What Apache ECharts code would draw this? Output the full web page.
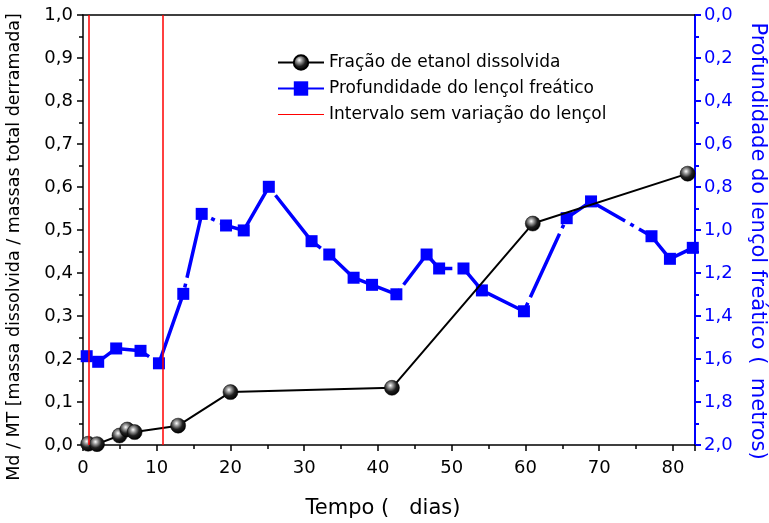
<!DOCTYPE html>
<html>
<head>
<meta charset="utf-8">
<script src="https://cdn.jsdelivr.net/npm/echarts@6/dist/echarts.min.js"></script>
<style>
  html, body { margin: 0; padding: 0; background: #fff; }
  #main { width: 769px; height: 523px; }
</style>
</head>
<body>
<div id="main"></div>
<script>
// fração de etanol dissolvida (dias, Md/MT)
var etanolDias = [0.7, 1.9, 4.95, 6.0, 7.0, 12.9, 20.0, 41.9, 61.0, 82.0];
var etanolFracao = [0.003, 0.002, 0.022, 0.036, 0.030, 0.045, 0.123, 0.133, 0.515, 0.631];

// profundidade do lençol freático (dias, metros)
var lencolDias = [0.5, 2.06, 4.5, 7.8, 10.3, 13.6, 16.1, 19.4, 21.8, 25.2, 31.0, 33.4, 36.7, 39.2, 42.5,
  46.6, 48.3, 51.6, 54.1, 59.8, 65.6, 68.9, 77.1, 79.6, 82.7];
var lencolProf = [1.587, 1.613, 1.551, 1.562, 1.62, 1.297, 0.925, 0.979, 1.002, 0.799, 1.052, 1.114, 1.222, 1.255, 1.299,
  1.114, 1.179, 1.179, 1.281, 1.378, 0.945, 0.867, 1.029, 1.134, 1.083];

// intervalo sem variação do lençol
var intervaloDias = [0.84, 10.8];

var xTicks = [0, 10, 20, 30, 40, 50, 60, 70, 80];

var chart = echarts.init(document.getElementById('main'), null, { renderer: 'canvas' });

var fonte = 'DejaVu Sans, Arial, sans-serif';
var virgula = function (v) { return v.toFixed(1).replace('.', ','); };

var etanolData = etanolDias.map(function (d, i) { return [d, etanolFracao[i]]; });
var lencolData = lencolDias.map(function (d, i) { return [d, lencolProf[i]]; });

var esfera = {
  type: 'radial', x: 0.4, y: 0.35, r: 0.65,
  colorStops: [
    { offset: 0, color: '#ffffff' },
    { offset: 0.25, color: '#9a9a9a' },
    { offset: 0.6, color: '#202020' },
    { offset: 1, color: '#000000' }
  ]
};

var option = {
  backgroundColor: '#fff',
  animation: false,
  textStyle: { fontFamily: fonte },
  grid: { left: 83, right: 74, top: 15, bottom: 78, containLabel: false, outerBoundsMode: 'none' },
  legend: {
    left: 272,
    top: 49,
    orient: 'vertical',
    itemGap: 9,
    itemWidth: 46,
    itemHeight: 18,
    textStyle: { fontFamily: fonte, fontSize: 17, color: '#000' },
    data: [
      { name: 'Fração de etanol dissolvida' },
      { name: 'Profundidade do lençol freático' },
      { name: 'Intervalo sem variação do lençol', icon: 'path://M0,8 L46,8 L46,9 L0,9 Z', itemStyle: { color: '#ff0000' } }
    ]
  },
  xAxis: [{
    type: 'value',
    min: 0,
    max: 83,
    interval: 10,
    name: 'Tempo (   dias)',
    nameLocation: 'middle',
    nameGap: 53,
    nameTextStyle: { fontFamily: fonte, fontSize: 21, color: '#000', padding: [0, 12, 0, 0] },
    axisLine: { show: true, onZero: false, lineStyle: { color: '#000', width: 1.5 } },
    axisTick: { show: true, inside: false, length: 6, lineStyle: { color: '#000', width: 1.5 } },
    minorTick: { show: true, splitNumber: 2, length: 4, lineStyle: { color: '#000', width: 1.5 } },
    axisLabel: {
      fontFamily: fonte, fontSize: 18, color: '#000', margin: 14,
      formatter: function (v) { return xTicks.indexOf(v) >= 0 ? String(v) : ''; }
    },
    splitLine: { show: false }
  }, {
    type: 'value',
    position: 'top',
    min: 0,
    max: 83,
    interval: 10,
    axisLine: { show: true, onZero: false, lineStyle: { color: '#000', width: 1.5 } },
    axisTick: { show: false },
    axisLabel: { show: false },
    splitLine: { show: false }
  }],
  yAxis: [{
    type: 'value',
    min: 0,
    max: 1,
    interval: 0.1,
    name: 'Md / MT [massa dissolvida / massas total derramada]',
    nameLocation: 'middle',
    nameGap: 60,
    nameTextStyle: { fontFamily: fonte, fontSize: 17.5, color: '#000', padding: [0, 34, 0, 0] },
    axisLine: { show: true, onZero: false, lineStyle: { color: '#000', width: 1.5 } },
    axisTick: { show: true, inside: false, length: 6, lineStyle: { color: '#000', width: 1.5 } },
    minorTick: { show: true, splitNumber: 2, length: 4, lineStyle: { color: '#000', width: 1.5 } },
    axisLabel: { fontFamily: fonte, fontSize: 18, color: '#000', margin: 10, formatter: virgula },
    splitLine: { show: false }
  }, {
    type: 'value',
    position: 'right',
    inverse: true,
    min: 0,
    max: 2,
    interval: 0.2,
    name: 'Profundidade do lençol freático (  metros)',
    nameLocation: 'middle',
    nameRotate: -90,
    nameGap: 52,
    nameTextStyle: { fontFamily: fonte, fontSize: 21, color: '#0000ff', padding: [0, 0, 0, 22] },
    axisLine: { show: true, onZero: false, lineStyle: { color: '#0000ff', width: 2 } },
    axisTick: { show: true, inside: false, length: 6, lineStyle: { color: '#0000ff', width: 2 } },
    minorTick: { show: true, splitNumber: 2, length: 4, lineStyle: { color: '#0000ff', width: 2 } },
    axisLabel: { fontFamily: fonte, fontSize: 18, color: '#0000ff', margin: 9, formatter: virgula },
    splitLine: { show: false }
  }],
  series: [{
    name: 'Intervalo sem variação do lençol',
    type: 'line',
    xAxisIndex: 0,
    yAxisIndex: 0,
    data: [],
    symbol: 'none',
    itemStyle: { color: '#ff0000' },
    lineStyle: { color: '#ff0000', width: 1.5 },
    markLine: {
      silent: true,
      symbol: ['none', 'none'],
      label: { show: false },
      lineStyle: { color: '#ff0000', width: 1.5, type: 'solid' },
      data: intervaloDias.map(function (d) { return { xAxis: d }; })
    },
    z: 1
  }, {
    name: 'Profundidade do lençol freático',
    type: 'line',
    xAxisIndex: 0,
    yAxisIndex: 1,
    data: lencolData,
    symbol: 'rect',
    symbolSize: 12,
    itemStyle: { color: '#0000ff' },
    lineStyle: { color: '#0000ff', width: 3.5, type: [70, 6, 4, 6] },
    z: 3
  }, {
    name: 'Fração de etanol dissolvida',
    type: 'line',
    xAxisIndex: 0,
    yAxisIndex: 0,
    data: etanolData,
    symbol: 'circle',
    symbolSize: 15,
    itemStyle: { color: esfera, borderColor: '#000', borderWidth: 0.5 },
    lineStyle: { color: '#000', width: 2 },
    z: 4
  }]
};

chart.setOption(option);
</script>
</body>
</html>
